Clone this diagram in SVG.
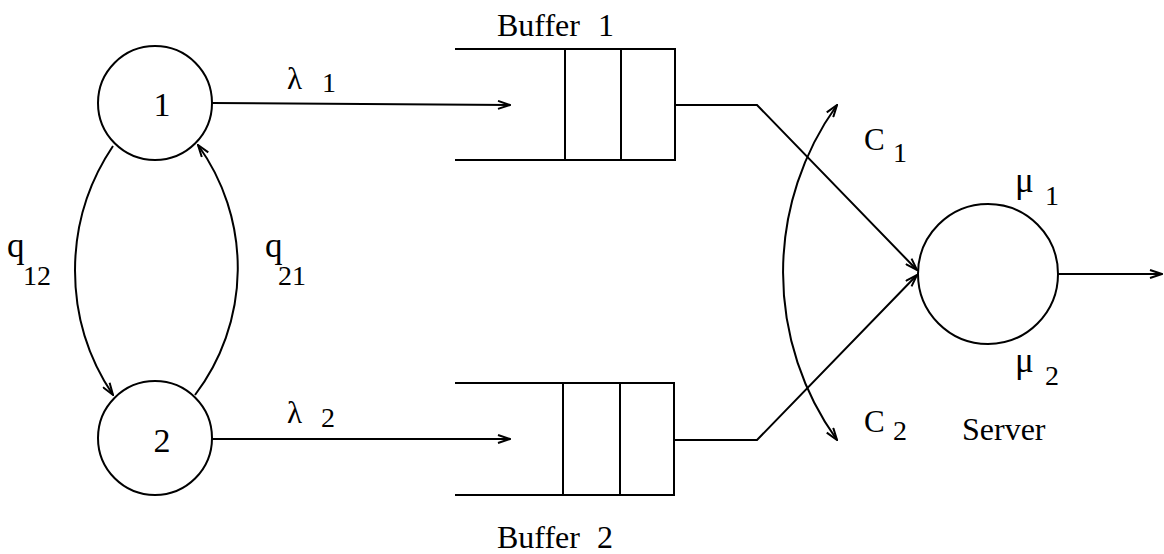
<svg xmlns="http://www.w3.org/2000/svg" width="1164" height="554" viewBox="0 0 1164 554">
<style>
.ln{fill:none;stroke:#000;stroke-width:2}
.nd{fill:#fff;stroke:#000;stroke-width:2}
.t{font-family:"Liberation Serif","Times New Roman",serif;font-size:31px;fill:#000}
.s{font-family:"Liberation Serif","Times New Roman",serif;font-size:28px;fill:#000}
.b{font-family:"Liberation Serif","Times New Roman",serif;font-size:32px;fill:#000}
.g{font-family:"Liberation Serif","Times New Roman",serif;font-size:35px;fill:#000}
</style>
<defs>
<marker id="ah" viewBox="0 0 14 10" refX="13" refY="5" markerWidth="14" markerHeight="10" markerUnits="userSpaceOnUse" orient="auto-start-reverse">
<path d="M1,1 L13,5 L1,9" fill="none" stroke="#000" stroke-width="2"/>
</marker>
</defs>
<rect width="1164" height="554" fill="#fff"/>
<g id="connectors">
<line class="ln" x1="212" y1="103" x2="510" y2="105" marker-end="url(#ah)"/>
<line class="ln" x1="212" y1="439" x2="510" y2="439" marker-end="url(#ah)"/>
<path class="ln" d="M113,146 A223,223 0 0 0 113,395" marker-end="url(#ah)"/>
<path class="ln" d="M195,395 A210,210 0 0 0 198,145" marker-end="url(#ah)"/>
<polyline class="ln" points="675,105 757,105 917,270" marker-end="url(#ah)"/>
<polyline class="ln" points="674,440 757,440 917,275" marker-end="url(#ah)"/>
<path class="ln" d="M837,105 A287,287 0 0 0 837,440" marker-start="url(#ah)" marker-end="url(#ah)"/>
<line class="ln" x1="1058" y1="274" x2="1162" y2="274" marker-end="url(#ah)"/>
</g>
<g id="node1">
<circle class="nd" cx="155" cy="103" r="57"/>
<text class="b" x="162" y="116" text-anchor="middle" style="font-size:34px">1</text>
</g>
<g id="node2">
<circle class="nd" cx="155" cy="438" r="57"/>
<text class="b" x="162" y="452" text-anchor="middle" style="font-size:34px">2</text>
</g>
<g id="buffer1">
<path class="ln" d="M455,49 H675 V160 H455 M565,49 V160 M621,49 V160"/>
<text class="b" x="497" y="36">Buffer<tspan x="598">1</tspan></text>
</g>
<g id="buffer2">
<path class="ln" d="M455,383 H674 V495 H455 M563,383 V495 M620,383 V495"/>
<text class="b" x="497" y="548">Buffer<tspan x="597">2</tspan></text>
</g>
<g id="server">
<circle class="nd" cx="988" cy="274" r="70"/>
<text class="b" x="962" y="440">Server</text>
</g>
<g id="labels">
<text class="t" x="287" y="89">λ</text><text class="s" x="322" y="92">1</text>
<text class="t" x="287" y="423">λ</text><text class="s" x="321" y="427">2</text>
<text class="g" x="7" y="257">q</text><text class="s" x="23" y="285">12</text>
<text class="g" x="265" y="257">q</text><text class="s" x="278" y="285">21</text>
<text class="t" x="864" y="150">C</text><text class="s" x="893" y="162">1</text>
<text class="t" x="864" y="432">C</text><text class="s" x="893" y="440">2</text>
<text class="g" x="1015" y="192">μ</text><text class="s" x="1045" y="205">1</text>
<text class="g" x="1015" y="372">μ</text><text class="s" x="1045" y="385">2</text>
</g>
</svg>
